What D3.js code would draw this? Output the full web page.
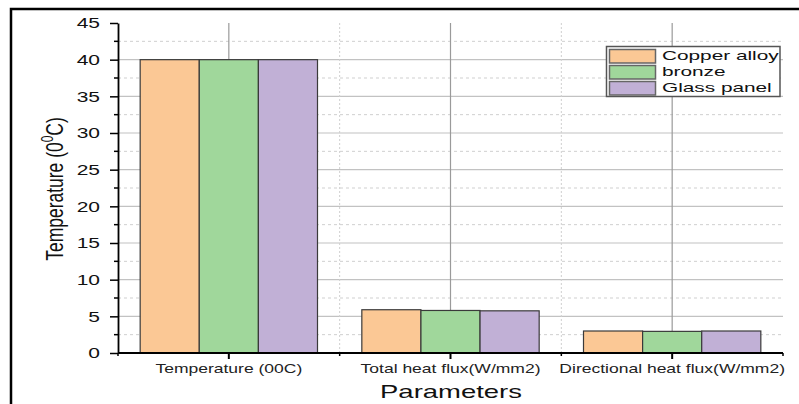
<!DOCTYPE html>
<html>
<head>
<meta charset="utf-8">
<script src="https://cdn.jsdelivr.net/npm/d3@7"></script>
<style>
  html, body { margin: 0; padding: 0; background: #fff; }
  svg { display: block; font-family: "Liberation Sans", Arial, sans-serif; }
</style>
</head>
<body>
<svg id="chart" width="799" height="404"></svg>
<script>
// Categories and series values
const categories = ["Temperature (00C)", "Total heat flux(W/mm2)", "Directional heat flux(W/mm2)"];
const seriesNames = ["Copper alloy", "bronze", "Glass panel"];
const copperAlloy = [40, 5.9, 3.0];
const bronze = [40, 5.8, 2.95];
const glassPanel = [40, 5.75, 3.0];
const yTicks = [0, 5, 10, 15, 20, 25, 30, 35, 40, 45];
const yMinorTicks = [2.5, 7.5, 12.5, 17.5, 22.5, 27.5, 32.5, 37.5, 42.5];
const seriesColors = ["#FBC895", "#A0D79B", "#C1B0D6"];

const seriesValues = [copperAlloy, bronze, glassPanel];
const rows = categories.map((c, i) => ({
  category: c,
  values: seriesNames.map((s, j) => ({ series: s, value: seriesValues[j][i] }))
}));

const svg = d3.select("#chart");
const plotLeft = 118, plotRight = 783, plotTop = 23, plotBottom = 353;
const textScale = 1.46;

// Outer frame
svg.append("rect")
  .attr("x", 11).attr("y", 9).attr("width", 820).attr("height", 420)
  .attr("fill", "none").attr("stroke", "#000").attr("stroke-width", 2.5);

const x = d3.scaleBand().domain(categories).range([plotLeft, plotRight]).padding(0);
const x1 = d3.scaleBand().domain(seriesNames)
  .range([x.bandwidth() * 0.1, x.bandwidth() * 0.9]).padding(0);
const y = d3.scaleLinear().domain([0, 45]).range([plotBottom, plotTop]);
const color = d3.scaleOrdinal().domain(seriesNames).range(seriesColors);

// Grid lines
const grid = svg.append("g");
grid.selectAll(".hminor").data(yMinorTicks).join("line")
  .attr("x1", plotLeft).attr("x2", plotRight)
  .attr("y1", d => y(d)).attr("y2", d => y(d))
  .attr("stroke", "#cfcfcf").attr("stroke-width", 1).attr("stroke-dasharray", "3,3");
grid.selectAll(".hmajor").data(yTicks.filter(d => d > 0 && d < 45)).join("line")
  .attr("x1", plotLeft).attr("x2", plotRight)
  .attr("y1", d => y(d)).attr("y2", d => y(d))
  .attr("stroke", "#c2c2c2").attr("stroke-width", 1.2);
grid.selectAll(".vminor").data(categories.slice(1)).join("line")
  .attr("x1", d => x(d)).attr("x2", d => x(d))
  .attr("y1", plotTop).attr("y2", plotBottom)
  .attr("stroke", "#cfcfcf").attr("stroke-width", 1).attr("stroke-dasharray", "2,2");
grid.selectAll(".vmajor").data(categories).join("line")
  .attr("x1", d => x(d) + x.bandwidth() / 2).attr("x2", d => x(d) + x.bandwidth() / 2)
  .attr("y1", plotTop).attr("y2", plotBottom)
  .attr("stroke", "#9a9a9a").attr("stroke-width", 1.2);

// Bars
svg.append("g").selectAll("g").data(rows).join("g")
  .attr("transform", d => `translate(${x(d.category)},0)`)
  .selectAll("rect").data(d => d.values).join("rect")
  .attr("x", d => x1(d.series))
  .attr("width", x1.bandwidth())
  .attr("y", d => y(d.value))
  .attr("height", d => y(0) - y(d.value))
  .attr("fill", d => color(d.series))
  .attr("stroke", "#3a3a3a").attr("stroke-width", 1.2);

// Y axis
const yAxis = svg.append("g").attr("transform", `translate(${plotLeft},0)`)
  .call(d3.axisLeft(y).tickValues(yTicks).tickSize(8).tickSizeOuter(0));
yAxis.select(".domain").attr("stroke-width", 1.8);
yAxis.selectAll(".tick line").attr("stroke-width", 1.5);
yAxis.selectAll(".tick text")
  .attr("x", 0).attr("dy", "0.35em")
  .attr("transform", `translate(-18,0) scale(1.5,1)`)
  .attr("font-size", 14).attr("fill", "#111")
  .attr("font-family", "Liberation Sans, Arial, sans-serif");
yAxis.selectAll(".minor").data(yMinorTicks).join("line")
  .attr("x1", -4).attr("x2", 0)
  .attr("y1", d => y(d)).attr("y2", d => y(d))
  .attr("stroke", "#000").attr("stroke-width", 1.5);

// X axis
const xAxisG = svg.append("g").attr("transform", `translate(0,${plotBottom})`);
xAxisG.append("line").attr("x1", plotLeft).attr("x2", plotRight)
  .attr("y1", 0).attr("y2", 0).attr("stroke", "#000").attr("stroke-width", 1.8);
xAxisG.selectAll(".major").data(categories).join("line")
  .attr("x1", d => x(d) + x.bandwidth() / 2).attr("x2", d => x(d) + x.bandwidth() / 2)
  .attr("y1", 0).attr("y2", 6).attr("stroke", "#000").attr("stroke-width", 2);
xAxisG.selectAll(".minor").data(x.range().concat(categories.slice(1).map(d => x(d))))
  .join("line")
  .attr("x1", d => d).attr("x2", d => d)
  .attr("y1", 0).attr("y2", 3).attr("stroke", "#000").attr("stroke-width", 1.5);
xAxisG.selectAll("text").data(categories).join("text")
  .attr("transform", d => `translate(${x(d) + x.bandwidth() / 2},19.5) scale(${textScale},1)`)
  .attr("text-anchor", "middle").attr("font-size", 12).attr("fill", "#222")
  .text(d => d);

// Axis titles
svg.append("text")
  .attr("transform", `translate(451,398) scale(1.57,1)`)
  .attr("text-anchor", "middle").attr("font-size", 17.5).attr("fill", "#111")
  .text("Parameters");

const yTitle = svg.append("text")
  .attr("transform", `translate(63,189) scale(1.4,1) rotate(-90)`)
  .attr("text-anchor", "middle").attr("font-size", 17.5).attr("fill", "#111");
yTitle.append("tspan").text("Temperature (0");
yTitle.append("tspan").attr("dy", -7).attr("font-size", 12).text("0");
yTitle.append("tspan").attr("dy", 7).text("C)");

// Legend
const legend = svg.append("g");
legend.append("rect")
  .attr("x", 606.5).attr("y", 46.5).attr("width", 173.5).attr("height", 50)
  .attr("fill", "#fff").attr("stroke", "#555").attr("stroke-width", 1.5);
const items = legend.selectAll(".item").data(seriesNames).join("g")
  .attr("transform", (d, i) => `translate(0,${i * 16})`);
items.append("rect")
  .attr("x", 609.5).attr("y", 49.5).attr("width", 46).attr("height", 13.5)
  .attr("fill", d => color(d)).attr("stroke", "#666").attr("stroke-width", 1.5);
items.append("text")
  .attr("transform", `translate(662,60) scale(1.6,1)`)
  .attr("font-size", 13).attr("fill", "#111")
  .text(d => d);
</script>
</body>
</html>
